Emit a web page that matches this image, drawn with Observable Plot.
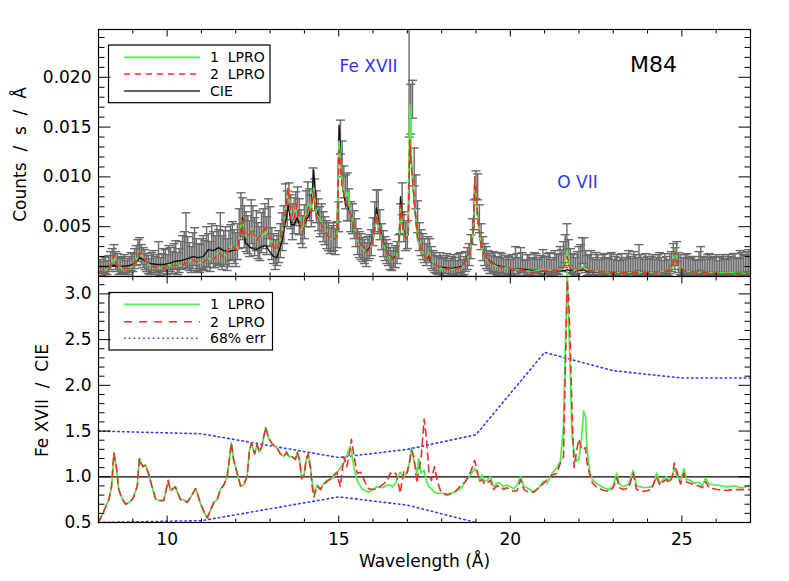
<!DOCTYPE html>
<html><head><meta charset="utf-8">
<script src="https://cdn.jsdelivr.net/npm/d3@7"></script>
<script src="https://cdn.jsdelivr.net/npm/@observablehq/plot@0.6"></script>
<style>
body{margin:0;background:#fff;}
#wrap{position:relative;width:789px;height:581px;overflow:hidden;background:#fff;}
#wrap svg{position:absolute;left:0;}
</style></head><body><div id="wrap"></div>
<script>
// ---------- tick positions and labels ----------
const xMajorTicks = [10, 15, 20, 25];
const xTickLabels = ["10", "15", "20", "25"];
const xMinorTicks = [9, 11, 12, 13, 14, 16, 17, 18, 19, 21, 22, 23, 24, 26];
const yTopMajor = [0.005, 0.010, 0.015, 0.020];
const yTopLabels = ["0.005", "0.010", "0.015", "0.020"];
const yTopMinor = [0.001,0.002,0.003,0.004,0.006,0.007,0.008,0.009,0.011,0.012,0.013,0.014,0.016,0.017,0.018,0.019,0.021,0.022,0.023,0.024];
const yBotMajor = [0.5, 1.0, 1.5, 2.0, 2.5, 3.0];
const yBotLabels = ["0.5", "1.0", "1.5", "2.0", "2.5", "3.0"];
const yBotMinor = [0.6,0.7,0.8,0.9,1.1,1.2,1.3,1.4,1.6,1.7,1.8,1.9,2.1,2.2,2.3,2.4,2.6,2.7,2.8,2.9,3.1];

// ---------- observed spectrum, set A (counts/s/Å) with 1-sigma errors ----------
const obsWave = [
8.05,8.15,8.25,8.35,8.45,8.55,8.65,8.75,8.85,8.95,
9.05,9.15,9.25,9.35,9.45,9.55,9.65,9.75,9.85,9.95,
10.05,10.15,10.25,10.35,10.45,10.55,10.65,10.75,10.85,10.95,
11.05,11.15,11.25,11.35,11.45,11.55,11.65,11.75,11.85,11.95,
12.05,12.15,12.25,12.35,12.45,12.55,12.65,12.75,12.85,12.95,
13.05,13.15,13.25,13.35,13.45,13.55,13.65,13.75,13.85,13.95,
14.05,14.15,14.25,14.35,14.45,14.55,14.65,14.75,14.85,14.95,
15.05,15.15,15.25,15.35,15.45,15.55,15.65,15.75,15.85,15.95,
16.05,16.15,16.25,16.35,16.45,16.55,16.65,16.75,16.85,16.95,
17.05,17.15,17.25,17.35,17.45,17.55,17.65,17.75,17.85,17.95,
18.05,18.15,18.25,18.35,18.45,18.55,18.65,18.75,18.85,18.95,
19.05,19.15,19.25,19.35,19.45,19.55,19.65,19.75,19.85,19.95,
20.05,20.15,20.25,20.35,20.45,20.55,20.65,20.75,20.85,20.95,
21.05,21.15,21.25,21.35,21.45,21.55,21.65,21.75,21.85,21.95,
22.05,22.15,22.25,22.35,22.45,22.55,22.65,22.75,22.85,22.95,
23.05,23.15,23.25,23.35,23.45,23.55,23.65,23.75,23.85,23.95,
24.05,24.15,24.25,24.35,24.45,24.55,24.65,24.75,24.85,24.95,
25.05,25.15,25.25,25.35,25.45,25.55,25.65,25.75,25.85,25.95,
26.05,26.15,26.25,26.35,26.45,26.55,26.65,26.75,26.85,26.95];
const obsRate = [
.0010,.0012,.0009,.0016,.0022,.0014,.0011,.0013,.0010,.0015,
.0018,.0026,.0022,.0017,.0012,.0014,.0011,.0020,.0013,.0016,
.0019,.0014,.0022,.0016,.0025,.0036,.0020,.0026,.0022,.0018,
.0024,.0030,.0020,.0027,.0032,.0038,.0028,.0022,.0034,.0030,
.0035,.0062,.0050,.0042,.0055,.0040,.0036,.0044,.0052,.0058,
.0033,.0022,.0030,.0045,.0075,.0082,.0055,.0068,.0060,.0045,
.0068,.0072,.0095,.0070,.0055,.0050,.0042,.0036,.0040,.0042,
.0140,.0095,.0080,.0060,.0052,.0035,.0030,.0025,.0028,.0034,
.0060,.0065,.0040,.0028,.0022,.0016,.0020,.0030,.0078,.0040,
.0200,.0178,.0085,.0040,.0030,.0022,.0026,.0016,.0012,.0014,
.0010,.0013,.0009,.0012,.0008,.0014,.0011,.0018,.0030,.0062,
.0090,.0040,.0022,.0016,.0012,.0014,.0010,.0013,.0009,.0011,
.0012,.0018,.0010,.0014,.0008,.0012,.0009,.0013,.0010,.0016,
.0011,.0014,.0010,.0013,.0018,.0022,.0038,.0016,.0012,.0014,
.0020,.0024,.0011,.0015,.0008,.0012,.0010,.0013,.0009,.0014,
.0011,.0008,.0013,.0010,.0015,.0009,.0012,.0019,.0010,.0013,
.0009,.0012,.0010,.0014,.0008,.0011,.0013,.0022,.0025,.0012,
.0010,.0013,.0009,.0011,.0008,.0018,.0010,.0012,.0009,.0011,
.0008,.0011,.0009,.0012,.0010,.0013,.0009,.0014,.0011,.0016];
const obsErr = [
.0007,.0008,.0007,.0009,.0010,.0009,.0008,.0009,.0008,.0009,
.0010,.0011,.0010,.0010,.0009,.0010,.0009,.0015,.0010,.0011,
.0012,.0011,.0014,.0012,.0016,.0028,.0014,.0018,.0016,.0014,
.0017,.0020,.0015,.0018,.0019,.0026,.0018,.0016,.0018,.0017,
.0018,.0022,.0021,.0019,.0022,.0019,.0018,.0020,.0021,.0020,
.0016,.0015,.0016,.0019,.0018,.0012,.0018,.0017,.0018,.0016,
.0018,.0016,.0014,.0016,.0015,.0015,.0014,.0013,.0014,.0013,
.0017,.0016,.0024,.0015,.0014,.0013,.0013,.0012,.0012,.0013,
.0015,.0022,.0013,.0012,.0011,.0010,.0011,.0012,.0016,.0014,
.0060,.0019,.0017,.0014,.0013,.0011,.0012,.0010,.0009,.0010,
.0009,.0010,.0009,.0010,.0008,.0010,.0009,.0011,.0012,.0015,
.0013,.0013,.0011,.0010,.0009,.0010,.0009,.0010,.0008,.0009,
.0010,.0012,.0009,.0010,.0008,.0010,.0009,.0010,.0009,.0011,
.0009,.0010,.0009,.0010,.0012,.0013,.0015,.0012,.0010,.0011,
.0012,.0015,.0010,.0011,.0009,.0010,.0009,.0010,.0009,.0010,
.0009,.0008,.0010,.0009,.0011,.0009,.0010,.0013,.0009,.0010,
.0009,.0010,.0009,.0010,.0008,.0009,.0010,.0011,.0010,.0010,
.0009,.0010,.0009,.0009,.0008,.0012,.0009,.0010,.0009,.0009,
.0008,.0009,.0009,.0010,.0009,.0010,.0009,.0010,.0010,.0011];

// ---------- observed spectrum, set B (interleaved bins) ----------
const obsWave2 = [
8.10,8.20,8.30,8.40,8.50,8.60,8.70,8.80,8.90,9.00,
9.10,9.20,9.30,9.40,9.50,9.60,9.70,9.80,9.90,10.00,
10.10,10.20,10.30,10.40,10.50,10.60,10.70,10.80,10.90,11.00,
11.10,11.20,11.30,11.40,11.50,11.60,11.70,11.80,11.90,12.00,
12.10,12.20,12.30,12.40,12.50,12.60,12.70,12.80,12.90,13.00,
13.10,13.20,13.30,13.40,13.50,13.60,13.70,13.80,13.90,14.00,
14.10,14.20,14.30,14.40,14.50,14.60,14.70,14.80,14.90,15.00,
15.10,15.20,15.30,15.40,15.50,15.60,15.70,15.80,15.90,16.00,
16.10,16.20,16.30,16.40,16.50,16.60,16.70,16.80,16.90,17.00,
17.10,17.20,17.30,17.40,17.50,17.60,17.70,17.80,17.90,18.00,
18.10,18.20,18.30,18.40,18.50,18.60,18.70,18.80,18.90,19.00,
19.10,19.20,19.30,19.40,19.50,19.60,19.70,19.80,19.90,20.00,
20.10,20.20,20.30,20.40,20.50,20.60,20.70,20.80,20.90,21.00,
21.10,21.20,21.30,21.40,21.50,21.60,21.70,21.80,21.90,22.00,
22.10,22.20,22.30,22.40,22.50,22.60,22.70,22.80,22.90,23.00,
23.10,23.20,23.30,23.40,23.50,23.60,23.70,23.80,23.90,24.00,
24.10,24.20,24.30,24.40,24.50,24.60,24.70,24.80,24.90,25.00,
25.10,25.20,25.30,25.40,25.50,25.60,25.70,25.80,25.90,26.00,
26.10,26.20,26.30,26.40,26.50,26.60,26.70,26.80,26.90,27.00];
const obsRate2 = [
.0008,.0011,.0013,.0019,.0016,.0010,.0012,.0009,.0012,.0014,
.0021,.0028,.0019,.0014,.0010,.0016,.0013,.0010,.0017,.0012,
.0017,.0020,.0013,.0021,.0028,.0024,.0017,.0030,.0019,.0023,
.0021,.0026,.0033,.0025,.0029,.0024,.0031,.0028,.0036,.0027,
.0048,.0058,.0045,.0038,.0050,.0046,.0033,.0048,.0041,.0050,
.0028,.0026,.0036,.0052,.0068,.0065,.0061,.0072,.0050,.0055,
.0078,.0066,.0082,.0062,.0058,.0046,.0040,.0038,.0035,.0060,
.0118,.0085,.0072,.0058,.0044,.0032,.0027,.0022,.0030,.0045,
.0070,.0052,.0033,.0025,.0018,.0019,.0024,.0058,.0050,.0042,
.0168,.0110,.0060,.0034,.0026,.0028,.0019,.0014,.0011,.0009,
.0012,.0008,.0011,.0010,.0013,.0009,.0015,.0022,.0045,.0092,
.0058,.0028,.0019,.0013,.0015,.0011,.0014,.0010,.0012,.0009,
.0010,.0013,.0017,.0009,.0012,.0010,.0014,.0009,.0012,.0011,
.0013,.0009,.0015,.0012,.0016,.0028,.0024,.0013,.0010,.0018,
.0026,.0015,.0012,.0010,.0014,.0009,.0012,.0010,.0013,.0009,
.0012,.0010,.0009,.0013,.0011,.0014,.0010,.0012,.0009,.0011,
.0011,.0009,.0012,.0010,.0013,.0009,.0015,.0018,.0014,.0010,
.0012,.0010,.0011,.0009,.0014,.0011,.0009,.0013,.0010,.0012,
.0010,.0012,.0009,.0011,.0013,.0010,.0015,.0012,.0014,.0011];
const obsErr2 = [
.0007,.0008,.0008,.0009,.0009,.0008,.0008,.0007,.0008,.0009,
.0010,.0011,.0010,.0009,.0008,.0010,.0009,.0009,.0011,.0010,
.0012,.0013,.0011,.0014,.0017,.0016,.0013,.0019,.0014,.0015,
.0015,.0017,.0020,.0016,.0018,.0017,.0019,.0018,.0019,.0017,
.0020,.0021,.0020,.0018,.0021,.0020,.0017,.0020,.0019,.0020,
.0015,.0015,.0017,.0019,.0018,.0017,.0018,.0018,.0017,.0017,
.0017,.0016,.0016,.0016,.0015,.0014,.0014,.0013,.0013,.0015,
.0018,.0017,.0016,.0015,.0014,.0013,.0012,.0012,.0012,.0014,
.0017,.0015,.0013,.0012,.0011,.0010,.0011,.0015,.0015,.0014,
.0025,.0019,.0016,.0013,.0012,.0012,.0011,.0010,.0009,.0009,
.0009,.0008,.0009,.0009,.0010,.0008,.0010,.0011,.0013,.0014,
.0014,.0012,.0011,.0010,.0010,.0009,.0010,.0009,.0009,.0008,
.0009,.0010,.0012,.0008,.0010,.0009,.0010,.0008,.0009,.0009,
.0010,.0008,.0011,.0010,.0011,.0014,.0013,.0010,.0009,.0012,
.0013,.0011,.0010,.0009,.0010,.0008,.0010,.0009,.0010,.0008,
.0010,.0009,.0008,.0010,.0009,.0011,.0009,.0010,.0008,.0009,
.0009,.0008,.0010,.0009,.0010,.0008,.0010,.0011,.0010,.0009,
.0010,.0009,.0009,.0008,.0011,.0009,.0008,.0010,.0009,.0010,
.0009,.0010,.0008,.0009,.0010,.0009,.0011,.0010,.0011,.0010];

// ---------- model spectra ----------
const modelWave = [
8.00,8.20,8.35,8.45,8.55,8.70,8.90,9.05,9.20,9.35,
9.50,9.70,9.90,10.05,10.20,10.40,10.60,10.75,10.90,11.05,
11.20,11.35,11.50,11.65,11.80,11.90,12.05,12.15,12.20,12.28,
12.40,12.48,12.60,12.75,12.87,12.97,13.10,13.20,13.35,13.45,
13.53,13.62,13.70,13.79,13.88,13.95,14.05,14.12,14.20,14.27,
14.35,14.45,14.60,14.72,14.85,14.95,15.01,15.10,15.20,15.27,
15.35,15.45,15.58,15.70,15.80,15.92,16.02,16.10,16.20,16.30,
16.42,16.56,16.68,16.76,16.80,16.88,16.96,17.02,17.07,17.13,
17.20,17.30,17.43,17.55,17.62,17.70,17.85,18.00,18.30,18.60,
18.80,18.92,18.97,19.05,19.15,19.30,19.60,20.00,20.40,20.65,
20.95,21.30,21.50,21.60,21.66,21.73,21.85,22.05,22.12,22.25,
22.60,23.00,23.50,24.00,24.50,24.72,24.80,24.88,25.10,25.60,
26.20,27.00];
const modelLpro1 = [
.0004,.0006,.0010,.0022,.0011,.0008,.0008,.0012,.0024,.0017,
.0011,.0009,.0008,.0012,.0011,.0011,.0014,.0017,.0014,.0014,
.0018,.0017,.0024,.0019,.0028,.0031,.0026,.0050,.0056,.0040,
.0042,.0048,.0036,.0040,.0045,.0040,.0030,.0026,.0043,.0065,
.0089,.0058,.0060,.0073,.0054,.0046,.0065,.0074,.0066,.0089,
.0063,.0058,.0047,.0039,.0037,.0040,.0136,.0095,.0080,.0084,
.0063,.0050,.0034,.0029,.0024,.0028,.0040,.0062,.0045,.0033,
.0022,.0017,.0020,.0034,.0070,.0045,.0038,.0045,.0172,.0110,
.0080,.0037,.0025,.0017,.0024,.0016,.0011,.0008,.0007,.0009,
.0022,.0045,.0100,.0060,.0030,.0017,.0010,.0008,.0006,.0005,
.0007,.0006,.0007,.0015,.0026,.0010,.0006,.0008,.0010,.0006,
.0005,.0004,.0004,.0004,.0005,.0008,.0027,.0010,.0005,.0004,
.0004,.0003];
const modelLpro2 = [
.0004,.0006,.0010,.0022,.0011,.0008,.0008,.0012,.0024,.0017,
.0011,.0009,.0008,.0012,.0011,.0011,.0014,.0017,.0014,.0014,
.0018,.0017,.0024,.0019,.0028,.0031,.0026,.0050,.0056,.0040,
.0042,.0048,.0036,.0042,.0049,.0040,.0030,.0026,.0043,.0065,
.0089,.0055,.0058,.0073,.0052,.0044,.0062,.0070,.0064,.0085,
.0060,.0056,.0046,.0039,.0037,.0040,.0127,.0090,.0075,.0070,
.0063,.0050,.0035,.0030,.0024,.0028,.0040,.0062,.0045,.0033,
.0022,.0017,.0020,.0034,.0072,.0045,.0038,.0045,.0137,.0105,
.0078,.0040,.0025,.0018,.0023,.0016,.0011,.0008,.0007,.0009,
.0022,.0045,.0100,.0060,.0030,.0017,.0010,.0008,.0006,.0004,
.0006,.0006,.0007,.0013,.0020,.0009,.0006,.0007,.0008,.0006,
.0005,.0004,.0004,.0004,.0005,.0008,.0025,.0010,.0005,.0004,
.0003,.0003];
const modelCIE = [
.0010,.0010,.0010,.0011,.0010,.0010,.0011,.0013,.0019,.0016,
.0013,.0012,.0012,.0013,.0015,.0016,.0018,.0020,.0019,.0020,
.0027,.0026,.0029,.0026,.0025,.0026,.0027,.0045,.0059,.0034,
.0030,.0028,.0027,.0030,.0031,.0026,.0020,.0019,.0036,.0055,
.0071,.0052,.0052,.0059,.0050,.0048,.0057,.0060,.0068,.0107,
.0067,.0058,.0047,.0039,.0037,.0040,.0152,.0095,.0072,.0070,
.0062,.0050,.0035,.0030,.0025,.0030,.0042,.0069,.0048,.0035,
.0023,.0018,.0021,.0036,.0080,.0048,.0038,.0042,.0131,.0110,
.0075,.0037,.0025,.0017,.0020,.0015,.0011,.0009,.0008,.0010,
.0023,.0046,.0100,.0060,.0030,.0018,.0011,.0008,.0007,.0006,
.0006,.0006,.0006,.0006,.0007,.0006,.0006,.0006,.0007,.0005,
.0005,.0004,.0004,.0004,.0005,.0008,.0026,.0010,.0005,.0004,
.0004,.0003];

// ---------- Fe XVII / CIE ratio ----------
const ratioWave = [
8.00,8.15,8.30,8.38,8.45,8.52,8.59,8.69,8.79,8.90,
9.00,9.08,9.13,9.19,9.25,9.30,9.37,9.47,9.56,9.66,
9.76,9.90,9.96,10.03,10.10,10.17,10.24,10.31,10.39,10.48,
10.58,10.68,10.78,10.83,10.88,10.97,11.07,11.17,11.27,11.36,
11.46,11.55,11.65,11.75,11.81,11.87,11.94,12.04,12.14,12.23,
12.33,12.40,12.46,12.55,12.62,12.69,12.76,12.87,12.96,13.06,
13.21,13.30,13.40,13.48,13.55,13.64,13.74,13.79,13.86,13.92,
13.99,14.05,14.11,14.18,14.23,14.28,14.37,14.47,14.57,14.66,
14.76,14.86,14.95,15.00,15.05,15.15,15.24,15.33,15.37,15.45,
15.54,15.64,15.70,15.78,15.87,16.00,16.10,16.27,16.42,16.50,
16.56,16.66,16.73,16.79,16.90,16.99,17.06,17.12,17.19,17.28,
17.33,17.40,17.49,17.56,17.63,17.70,17.79,17.87,17.98,18.15,
18.35,18.55,18.70,18.84,18.96,19.03,19.10,19.18,19.25,19.32,
19.42,19.51,19.61,19.71,19.80,19.90,20.00,20.10,20.20,20.30,
20.40,20.49,20.68,20.83,20.97,21.07,21.22,21.36,21.46,21.55,
21.62,21.66,21.70,21.75,21.80,21.86,21.94,22.00,22.08,22.14,
22.19,22.24,22.32,22.40,22.53,22.73,22.88,23.00,23.10,23.18,
23.30,23.45,23.58,23.68,23.90,24.12,24.20,24.26,24.36,24.46,
24.56,24.63,24.72,24.78,24.86,24.96,25.06,25.14,25.25,25.35,
25.50,25.60,25.69,25.79,26.03,26.30,26.52,26.75,27.00];
const ratio1 = [
.50,.62,.75,.89,1.26,1.11,.86,.76,.70,.72,
.76,.84,.90,1.20,1.14,1.11,1.13,1.02,.89,.76,
.74,.74,.84,.96,.85,.87,.89,.82,.75,.75,
.72,.77,.84,.87,.82,.71,.62,.55,.64,.72,
.75,.86,.91,1.00,1.18,1.37,1.18,1.04,.90,.91,
1.00,1.29,1.37,1.25,1.35,1.27,1.33,1.54,1.42,1.36,
1.31,1.25,1.22,1.27,1.22,1.22,1.19,1.27,1.18,.98,
1.02,1.18,1.25,1.11,.93,.82,.91,.87,.93,.96,
.97,1.00,1.04,1.07,1.10,1.15,1.24,1.33,1.28,1.09,
.96,.89,.86,.85,.83,.86,.89,.88,.91,.91,
.89,.93,1.00,1.05,1.00,1.05,1.15,1.32,1.18,1.04,
1.20,1.04,1.07,.95,.89,.87,.83,.82,.82,.81,
.83,.87,.95,1.02,1.09,1.05,.96,1.02,.95,.96,
1.00,.89,.93,.93,.89,.91,.89,.87,.91,1.00,
.89,.88,.84,.88,.95,.93,1.04,1.10,1.17,1.55,
2.65,3.24,2.72,2.10,1.45,1.26,1.17,1.19,1.45,1.72,
1.66,1.30,1.04,.97,.92,.88,.86,.90,1.04,.92,
.89,.92,1.07,.90,.88,.89,.93,1.04,.93,.97,
1.00,.95,1.00,1.10,1.01,.96,1.09,.97,.96,.93,
.94,.90,.99,.92,.91,.89,.90,.88,.90];
const ratio2 = [
.50,.62,.75,.89,1.26,1.11,.86,.76,.70,.72,
.76,.84,.90,1.20,1.14,1.11,1.13,1.02,.89,.76,
.74,.74,.84,.96,.85,.87,.89,.82,.75,.75,
.72,.77,.84,.87,.82,.71,.62,.55,.64,.72,
.75,.86,.91,1.00,1.18,1.37,1.18,1.04,.90,.91,
1.00,1.29,1.37,1.25,1.35,1.27,1.33,1.54,1.42,1.36,
1.31,1.25,1.22,1.27,1.22,1.22,1.19,1.27,1.18,.98,
1.02,1.18,1.25,1.08,.88,.78,.90,.86,.92,.95,
.98,1.02,1.05,.95,.89,1.22,1.11,1.30,1.41,1.22,
1.04,1.05,1.00,.93,.87,.86,.87,.91,.96,1.04,
1.02,1.04,.95,.82,1.07,1.04,1.15,1.29,1.22,.93,
1.07,1.20,1.63,1.41,1.04,.96,1.11,.96,.83,.80,
.82,.90,.95,1.05,1.18,1.07,.95,.97,.92,.93,
.96,.86,.90,.90,.86,.88,.86,.84,.85,.97,
.86,.84,.83,.88,.93,.97,1.02,1.04,1.15,1.22,
2.45,3.15,2.95,2.40,1.70,1.10,1.30,1.41,1.30,1.30,
1.32,1.15,1.02,.93,.88,.85,.84,.88,.99,.88,
.86,.88,1.04,.86,.84,.86,.95,1.00,.91,.95,
.97,.93,1.00,1.15,1.05,.92,1.04,.94,.93,.91,
.90,.88,.95,.88,.86,.85,.86,.86,.86];
// 68% error envelope
const errUpperWave = [8, 11, 15, 17, 19, 21, 23, 25, 27];
const errUpper = [1.50, 1.47, 1.21, 1.30, 1.46, 2.36, 2.16, 2.08, 2.08];
const errLowerWave = [8, 11, 15, 17, 19];
const errLower = [0.50, 0.52, 0.78, 0.69, 0.50];

// ---------- annotations / legends ----------
const annoText = ["Fe XVII", "O VII"];
const annoWave = [15.87, 21.96];
const annoRate = [0.0211, 0.0094];
const objText = ["M84"], objWave = [24.17], objRate = [0.0212];
const legendTopLabels = ["1  LPRO", "2  LPRO", "CIE"];
const legendBotLabels = ["1  LPRO", "2  LPRO", "68% err"];

// ---------- styling ----------
const W = 789;
const FONT = "DejaVu Sans, sans-serif";
const GREEN = "#4cf04c", RED = "#ff2828", RED2 = "#e83030", BLUE = "#3a3aff", GREY = "#6a6a6a";

function tickSym(dx, dy) {
  return {draw(ctx, size) { const L = Math.sqrt(size / Math.PI); ctx.moveTo(0, 0); ctx.lineTo(dx * L, dy * L); }};
}
const capSym = {draw(ctx, size) { const L = Math.sqrt(size / Math.PI); ctx.moveTo(-L, 0); ctx.lineTo(L, 0); }};

function tickMarks(yMinor, yMajor) {
  const o = {stroke: "black", fill: "none", strokeWidth: 1};
  return [
    Plot.dot(xMinorTicks, {x: d => d, frameAnchor: "top", symbol: tickSym(0, 1), r: 4, ...o}),
    Plot.dot(xMajorTicks, {x: d => d, frameAnchor: "top", symbol: tickSym(0, 1), r: 7, ...o}),
    Plot.dot(xMinorTicks, {x: d => d, frameAnchor: "bottom", symbol: tickSym(0, -1), r: 4, ...o}),
    Plot.dot(xMajorTicks, {x: d => d, frameAnchor: "bottom", symbol: tickSym(0, -1), r: 7, ...o}),
    Plot.dot(yMinor, {y: d => d, frameAnchor: "left", symbol: tickSym(1, 0), r: 6, ...o}),
    Plot.dot(yMajor, {y: d => d, frameAnchor: "left", symbol: tickSym(1, 0), r: 12, ...o}),
    Plot.dot(yMinor, {y: d => d, frameAnchor: "right", symbol: tickSym(-1, 0), r: 6, ...o}),
    Plot.dot(yMajor, {y: d => d, frameAnchor: "right", symbol: tickSym(-1, 0), r: 12, ...o})
  ];
}

const obs = obsWave.map((w, i) => ({w, v: obsRate[i], e: obsErr[i]}))
  .concat(obsWave2.map((w, i) => ({w, v: obsRate2[i], e: obsErr2[i]})));

function errorBars(data) {
  const s = {stroke: GREY, fill: "none", strokeWidth: 1.4, clip: true};
  return [
    Plot.ruleX(data, {x: "w", y1: d => d.v - d.e, y2: d => d.v + d.e, ...s}),
    Plot.dot(data, {x: "w", y: d => d.v + d.e, symbol: capSym, r: 4.5, ...s}),
    Plot.dot(data, {x: "w", y: d => d.v - d.e, symbol: capSym, r: 4.5, ...s})
  ];
}

const topPlot = Plot.plot({
  width: W, height: 276,
  marginLeft: 98, marginRight: 39, marginTop: 29, marginBottom: 0,
  style: {fontFamily: FONT, background: "transparent"},
  x: {domain: [8, 27], axis: null},
  y: {domain: [0, 0.0248], axis: null},
  marks: [
    ...errorBars(obs),
    Plot.line(modelWave, {x: d => d, y: (d, i) => modelCIE[i], stroke: "#111", strokeWidth: 1.4}),
    Plot.line(modelWave, {x: d => d, y: (d, i) => modelLpro1[i], stroke: GREEN, strokeWidth: 1.7}),
    Plot.line(modelWave, {x: d => d, y: (d, i) => modelLpro2[i], stroke: RED, strokeWidth: 1.6, strokeDasharray: "6,5"}),
    Plot.frame({stroke: "black", strokeWidth: 1.2}),
    ...tickMarks(yTopMinor, yTopMajor),
    Plot.text(yTopMajor, {y: d => d, text: (d, i) => yTopLabels[i], frameAnchor: "left", textAnchor: "end", dx: -7, fontSize: 17}),
    Plot.text(["Counts  /  s  /  Å"], {text: d => d, frameAnchor: "left", textAnchor: "middle", rotate: -90, dx: -78, dy: 1.5, fontSize: 17}),
    Plot.text(annoText, {x: (d, i) => annoWave[i], y: (d, i) => annoRate[i], text: d => d, fill: "#3434f0", fontSize: 17}),
    Plot.text(objText, {x: (d, i) => objWave[i], y: (d, i) => objRate[i], text: d => d, fill: "black", fontSize: 22})
  ]
});

const botPlot = Plot.plot({
  width: W, height: 315,
  marginLeft: 98, marginRight: 39, marginTop: 10, marginBottom: 59,
  style: {fontFamily: FONT, background: "transparent", overflow: "visible"},
  x: {domain: [8, 27], axis: null},
  y: {domain: [0.5, 3.19], axis: null},
  marks: [
    Plot.ruleY([1], {stroke: "black", strokeWidth: 1.3}),
    Plot.line(errUpperWave, {x: d => d, y: (d, i) => errUpper[i], stroke: BLUE, strokeWidth: 1.6, strokeDasharray: "1.6,3.2"}),
    Plot.line(errLowerWave, {x: d => d, y: (d, i) => errLower[i], stroke: BLUE, strokeWidth: 1.6, strokeDasharray: "1.6,3.2"}),
    Plot.line(ratioWave, {x: d => d, y: (d, i) => ratio1[i], stroke: GREEN, strokeWidth: 1.7}),
    Plot.line(ratioWave, {x: d => d, y: (d, i) => ratio2[i], stroke: RED2, strokeWidth: 1.6, strokeDasharray: "7,5"}),
    Plot.frame({stroke: "black", strokeWidth: 1.2}),
    ...tickMarks(yBotMinor, yBotMajor),
    Plot.text(yBotMajor, {y: d => d, text: (d, i) => yBotLabels[i], frameAnchor: "left", textAnchor: "end", dx: -7, fontSize: 17}),
    Plot.text(xMajorTicks, {x: d => d, text: (d, i) => xTickLabels[i], frameAnchor: "bottom", dy: 22, fontSize: 17}),
    Plot.text(["Fe XVII  /  CIE"], {text: d => d, frameAnchor: "left", textAnchor: "middle", rotate: -90, dx: -55.5, dy: 1, fontSize: 17}),
    Plot.text(["Wavelength (Å)"], {text: d => d, frameAnchor: "bottom", dy: 44, fontSize: 17})
  ]
});

const wrap = document.getElementById("wrap");
topPlot.style.top = "0px";
botPlot.style.top = "266px";
wrap.appendChild(topPlot);
wrap.appendChild(botPlot);

// ---------- legends ----------
const leg = d3.create("svg").attr("width", W).attr("height", 581)
  .style("top", "0px").style("pointer-events", "none").style("font-family", FONT);
function drawLegend(box, rowsY, labels, styles) {
  leg.append("rect").attr("x", box[0]).attr("y", box[1])
    .attr("width", box[2] - box[0]).attr("height", box[3] - box[1])
    .attr("fill", "none").attr("stroke", "black").attr("stroke-width", 1.2);
  labels.forEach((lab, i) => {
    const s = styles[i];
    leg.append("line").attr("x1", 124).attr("x2", 200).attr("y1", rowsY[i]).attr("y2", rowsY[i])
      .attr("stroke", s.c).attr("stroke-width", s.w).attr("stroke-dasharray", s.d || null);
    leg.append("text").attr("x", 210).attr("y", rowsY[i]).attr("dy", "0.36em")
      .attr("font-size", 14).attr("fill", "black").style("white-space", "pre").text(lab);
  });
}
drawLegend([108.5, 45, 270, 102.7], [57.3, 74, 91], legendTopLabels,
  [{c: GREEN, w: 1.8}, {c: RED, w: 1.6, d: "6,5"}, {c: "#333", w: 1.5}]);
drawLegend([109, 292.5, 272.5, 350], [304.3, 321.7, 338.3], legendBotLabels,
  [{c: GREEN, w: 1.8}, {c: RED2, w: 1.6, d: "8,7"}, {c: BLUE, w: 1.6, d: "1.6,3.2"}]);
wrap.appendChild(leg.node());
</script></body></html>
